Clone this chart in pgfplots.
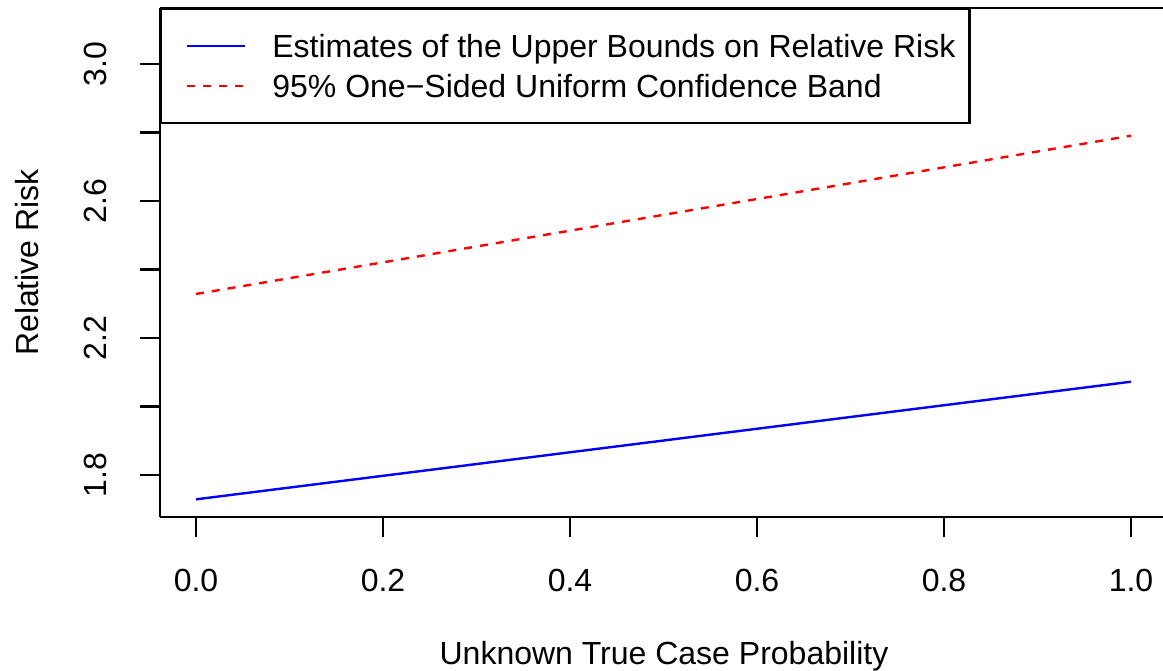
\documentclass[border=0pt]{standalone}
\usepackage{pgfplots}
\pgfplotsset{compat=1.18}
\usepackage{fontspec}
\setmainfont{Liberation Sans}
\newcommand{\rfont}{\fontsize{16}{18}\selectfont}
\begin{document}
\begin{tikzpicture}
\useasboundingbox (0,0) rectangle (581.5pt,335pt);
\begin{axis}[
  at={(80pt,76.5pt)}, anchor=south west,
  scale only axis, width=501.5pt, height=254.5pt,
  xmin=-0.0385, xmax=1.0342, ymin=1.6774, ymax=3.1635,
  clip=false,
  axis x line*=bottom, axis y line*=left,
  axis line style={-, line width=1.2pt, black},
  tick style={line width=1.2pt, black},
  tick align=outside, major tick length=10pt,
  xtick={0,0.2,0.4,0.6,0.8,1},
  xticklabels={0.0,0.2,0.4,0.6,0.8,1.0},
  ytick={1.8,2.0,2.2,2.4,2.6,2.8,3.0},
  yticklabels={1.8,,2.2,,2.6,,3.0},
  xticklabel style={font=\rfont, anchor=center, yshift=-21.5pt},
  yticklabel style={font=\rfont, xshift=-22.5pt, rotate=90, anchor=center},
  every axis x label/.style={at={(axis description cs:0.5,0)}, xshift=1.25pt, yshift=-73.75pt, anchor=base, font=\rfont},
  every axis y label/.style={at={(axis description cs:0,0.5)}, xshift=-66.5pt, rotate=90, anchor=center, font=\rfont},
  xlabel={Unknown True Case Probability},
  ylabel={Relative Risk},
  legend cell align=left,
  legend style={at={(0,1)}, anchor=north west, draw=black, line width=1.2pt, fill=white,
    inner xsep=7pt, inner ysep=10pt, row sep=3pt, column sep=13pt,
    font=\rfont, nodes={inner sep=0pt, text height=14.15pt, text depth=2.85pt}},
  legend image code/.code={\path[draw=none, fill=none] (0pt,0pt) -- (6pt,0pt); \draw[#1] (6pt,0pt) -- (35pt,0pt);},
]
\addplot[blue, line width=1.2pt] coordinates {(0,1.729) (0.5,1.9007) (1,2.0724)};
\addlegendentry{Estimates of the Upper Bounds on Relative Risk}
\addplot[red, line width=1.2pt, dash pattern=on 4pt off 4pt] coordinates {(0,2.3285) (0.5,2.5596) (1,2.7907)};
\addlegendentry{95\% One−Sided Uniform Confidence Band}
\draw[line width=1.2pt, black] (rel axis cs:0,1) -- (rel axis cs:1,1);
\end{axis}
\end{tikzpicture}
\end{document}
